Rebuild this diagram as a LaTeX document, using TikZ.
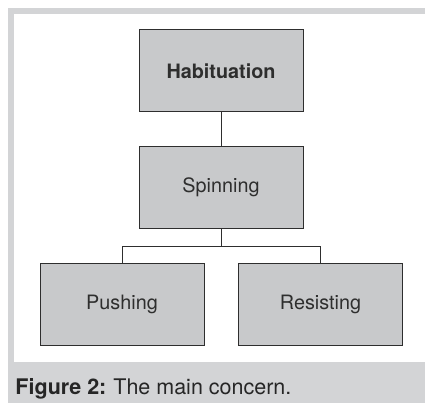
\documentclass[tikz,border=0pt]{standalone}
\usepackage{fontspec}
\setmainfont{TeX Gyre Heros}
\definecolor{boxgrey}{HTML}{C8C9CB}
\definecolor{framegrey}{HTML}{D3D4D6}
\definecolor{inkgrey}{HTML}{2E2E2E}
\begin{document}
\begin{tikzpicture}[x=1pt, y=1pt, every node/.style={rectangle, draw=inkgrey, fill=boxgrey, line width=1pt, text=inkgrey, minimum width=164pt, minimum height=82pt, font=\fontsize{19.8}{23}\selectfont}, node distance=116.5pt]
        \useasboundingbox (0,0) rectangle (425,-403);
        % frame and caption band
        \fill[framegrey] (8,-8) rectangle (425,-403);
        \fill[white] (14,-14) rectangle (425,-362);

        \node (hab) at (221,-71) {\textbf{Habituation}};
        \node[below of=hab] (spin) {Spinning};
        \node[below of=spin, xshift=-99pt] (push) {Pushing};
        \node[below of=spin, xshift=99.5pt] (res) {Resisting};
        \coordinate (fork) at ([yshift=-17pt]spin.south);

        \draw[inkgrey, line width=1pt] (hab) -- (spin);
        \draw[inkgrey, line width=1pt] (spin) -- (fork);
        \draw[inkgrey, line width=1pt] (fork) -| (push);
        \draw[inkgrey, line width=1pt] (fork) -| (res);

        \node[draw=none, fill=none, minimum width=0pt, minimum height=0pt, inner sep=0pt, anchor=base west, text=black!85, font=\fontsize{21.5}{25}\selectfont] (cap) at (15,-394) {\textbf{Figure 2:}\hspace{-1pt} The main concern.};
      \end{tikzpicture}
\end{document}
